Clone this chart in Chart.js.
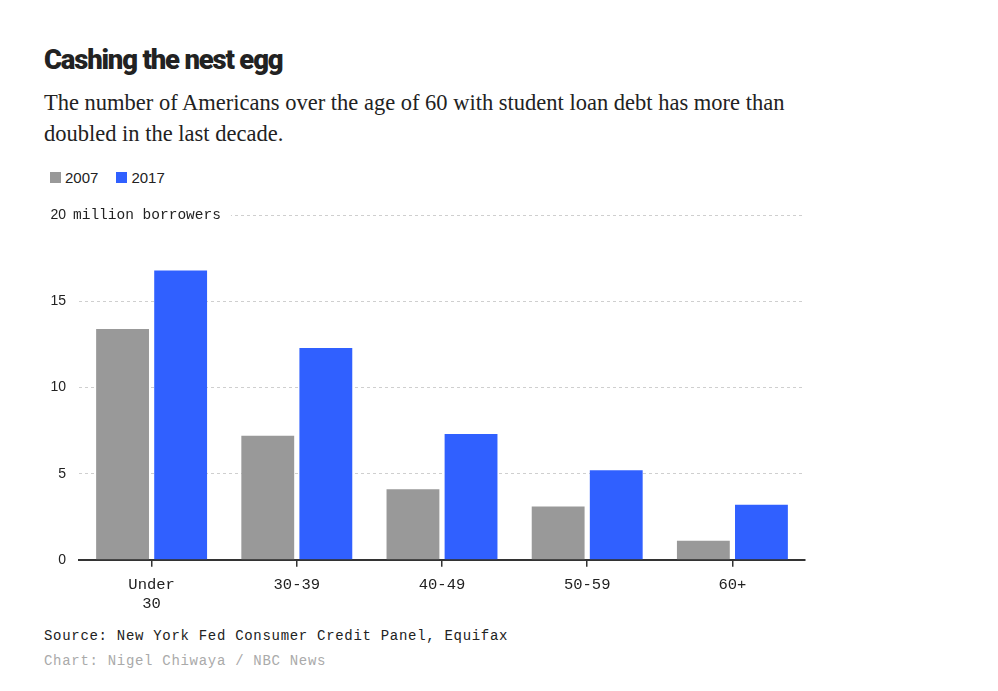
<!DOCTYPE html>
<html>
<head>
<meta charset="utf-8">
<script src="https://cdn.jsdelivr.net/npm/chart.js@4.4.1/dist/chart.umd.min.js"></script>
<style>
  body { margin: 0; background: #fff; width: 998px; height: 691px; overflow: hidden; position: relative; }
  .title { position: absolute; left: 44px; top: 43px; font: 900 27.5px "Roboto", sans-serif; color: #222; letter-spacing: -1.2px; }
  .sub { position: absolute; left: 44px; top: 87px; width: 800px; font: 22.5px/31px "Liberation Serif", "DejaVu Serif", serif; color: #222; }
  .legend { position: absolute; left: 50px; top: 169px; font: 15px "Liberation Sans", sans-serif; color: #222; display: flex; align-items: center; }
  .legend span.sw { display: inline-block; width: 11px; height: 11px; margin-right: 4px; }
  .legend span.lb { margin-right: 18px; }
  .wrap { position: absolute; left: 44px; top: 194px; width: 770px; height: 428px; }
  .src { position: absolute; left: 44px; top: 628px; font: 14px "Liberation Mono", monospace; letter-spacing: 0.7px; color: #222; }
  .credit { position: absolute; left: 44px; top: 653px; font: 14px "Liberation Mono", monospace; letter-spacing: 0.7px; color: #aaa; }
</style>
</head>
<body>
<div class="title">Cashing the nest egg</div>
<div class="sub">The number of Americans over the age of 60 with student loan debt has more than doubled in the last decade.</div>
<div class="legend">
  <span class="sw" style="background:#999"></span><span class="lb">2007</span>
  <span class="sw" style="background:#3060ff"></span><span class="lb">2017</span>
</div>
<div class="wrap"><canvas id="chart"></canvas></div>
<div class="src">Source: New York Fed Consumer Credit Panel, Equifax</div>
<div class="credit">Chart: Nigel Chiwaya / NBC News</div>
<script>
const ageGroups = [["Under", "30"], "30-39", "40-49", "50-59", "60+"];
const borrowers2007 = [13.4, 7.2, 4.1, 3.1, 1.1];
const borrowers2017 = [16.8, 12.3, 7.3, 5.2, 3.2];
const yTicks = [0, 5, 10, 15, 20];
const topUnit = "million borrowers";

// the top tick carries the unit, drawn over the grid line
const unitLabel = {
  id: "unitLabel",
  afterDraw(chart) {
    const { ctx, scales } = chart;
    const y = scales.y.getPixelForValue(yTicks[yTicks.length - 1]);
    const right = chart.chartArea.left - 13;
    ctx.save();
    ctx.font = "14.5px 'Liberation Mono'";
    const w = ctx.measureText(topUnit).width;
    ctx.fillStyle = "#fff";
    ctx.fillRect(chart.chartArea.left, y - 8, right + 7 + w + 10 - chart.chartArea.left, 16);
    ctx.fillStyle = "#222";
    ctx.textBaseline = "middle";
    ctx.textAlign = "left";
    ctx.fillText(topUnit, right + 7, y);
    ctx.font = "14px 'Liberation Sans'";
    ctx.textAlign = "right";
    ctx.fillText(String(yTicks[yTicks.length - 1]), right, y);
    ctx.restore();
  },
};

const chart = new Chart(document.getElementById("chart"), {
  type: "bar",
  data: {
    labels: ageGroups,
    datasets: [
      { label: "2007", data: borrowers2007, backgroundColor: "#999999" },
      { label: "2017", data: borrowers2017, backgroundColor: "#3060ff" },
    ],
  },
  options: {
    responsive: true,
    maintainAspectRatio: false,
    animation: false,
    layout: { padding: { top: 9, right: 9, bottom: 0, left: 0 } },
    plugins: { legend: { display: false }, tooltip: { enabled: false } },
    datasets: { bar: { categoryPercentage: 0.8, barPercentage: 0.91 } },
    scales: {
      x: {
        grid: { display: true, offset: false, drawOnChartArea: false, drawTicks: true, tickLength: 7, color: "#333", lineWidth: 1.5 },
        border: { display: true, color: "#333", width: 2 },
        ticks: { color: "#222", font: { family: "Liberation Mono", size: 15.5 }, padding: 9, maxRotation: 0 },
      },
      y: {
        min: 0,
        max: 20,
        afterBuildTicks: (axis) => { axis.ticks = yTicks.map((v) => ({ value: v })); },
        afterFit: (axis) => { axis.width = 35; },
        grid: { color: "#cfcfcf", drawTicks: false, lineWidth: 1 },
        border: { display: false, dash: [3, 3] },
        ticks: {
          color: "#222",
          font: { family: "Liberation Sans", size: 14 },
          padding: 13,
          callback: (v) => (v === 20 ? "" : v),
        },
      },
    },
  },
  plugins: [unitLabel],
});
</script>
</body>
</html>
